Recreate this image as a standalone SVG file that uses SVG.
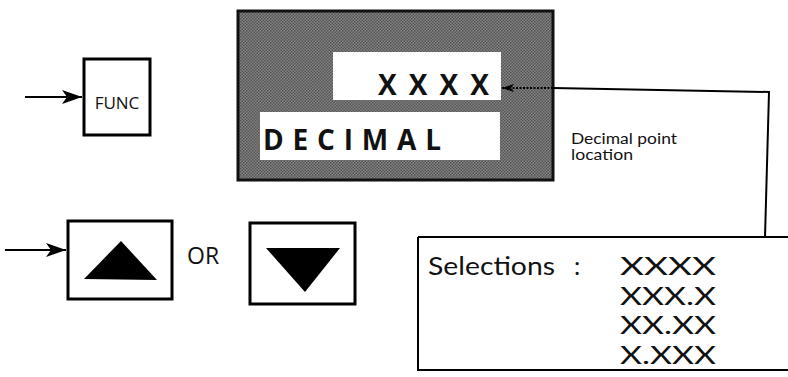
<svg xmlns="http://www.w3.org/2000/svg" width="788" height="377" viewBox="0 0 788 377">
<defs>
<pattern id="dither" width="3" height="3" patternUnits="userSpaceOnUse">
<rect width="3" height="3" fill="#838383"/>
<rect x="0" y="0" width="1.5" height="1.5" fill="#555"/>
<rect x="1.5" y="1.5" width="1.5" height="1.5" fill="#555"/>
</pattern>
<marker id="head" markerWidth="12" markerHeight="8" refX="12" refY="4" orient="auto" markerUnits="userSpaceOnUse">
<path d="M0,0 L12,4 L0,8 L3,4 Z" fill="#000"/>
</marker>
<marker id="bighead" markerWidth="20" markerHeight="14" refX="20" refY="7" orient="auto" markerUnits="userSpaceOnUse">
<path d="M0,0 L20,7 L0,14 L5,7 Z" fill="#000"/>
</marker>
</defs>
<style>
.box{fill:#fff;stroke:#000;stroke-width:3}
.line{fill:none;stroke:#000;stroke-width:2}
.t{font-family:"Open Sans","Liberation Sans",sans-serif;fill:#111}
.l{font-family:Lato,"Open Sans","Liberation Sans",sans-serif;fill:#111}
.bold{font-weight:bold}
.tri{fill:#000}
</style>
<rect width="788" height="377" fill="#fff"/>
<g id="func">
<rect class="box" x="84" y="59" width="66" height="76"/>
<text class="t" x="117" y="109" font-size="17" text-anchor="middle">FUNC</text>
</g>
<g id="display">
<rect x="238" y="11" width="315" height="169" fill="url(#dither)" stroke="#111" stroke-width="3"/>
<rect x="333" y="52" width="168" height="48" fill="#fff"/>
<text class="t bold" x="378" y="95" font-size="28" textLength="111" lengthAdjust="spacing">XXXX</text>
<rect x="260" y="112" width="240" height="48" fill="#fff"/>
<text class="t bold" x="263" y="150" font-size="28" textLength="178" lengthAdjust="spacing">DECIMAL</text>
</g>
<g id="label">
<text class="l" x="571" y="144" font-size="14.5" textLength="106" lengthAdjust="spacingAndGlyphs">Decimal point</text>
<text class="l" x="571" y="160" font-size="14.5" textLength="62" lengthAdjust="spacingAndGlyphs">location</text>
</g>
<g id="up">
<rect class="box" x="68" y="221" width="104" height="78"/>
<polygon class="tri" points="84,279 121,241 157,280"/>
</g>
<text class="t" x="187" y="264" font-size="23">OR</text>
<g id="down">
<rect class="box" x="250" y="223" width="105" height="81"/>
<polygon class="tri" points="266,248 340,248 305,292"/>
</g>
<g id="selections">
<polyline class="line" points="418,237 418,370 788,370"/>
<text class="l" x="428" y="275" font-size="25" textLength="127" lengthAdjust="spacingAndGlyphs">Selections</text>
<text class="l" x="574" y="275" font-size="25">:</text>
<text class="l" x="620" y="275" font-size="25" textLength="96" lengthAdjust="spacingAndGlyphs">XXXX</text>
<text class="l" x="620" y="304.5" font-size="25" textLength="96" lengthAdjust="spacingAndGlyphs">XXX.X</text>
<text class="l" x="620" y="334" font-size="25" textLength="96" lengthAdjust="spacingAndGlyphs">XX.XX</text>
<text class="l" x="620" y="363.5" font-size="25" textLength="96" lengthAdjust="spacingAndGlyphs">X.XXX</text>
</g>
<g id="connectors">
<line class="line" x1="25" y1="97" x2="82" y2="97" stroke-width="3" marker-end="url(#bighead)"/>
<line class="line" x1="5" y1="250" x2="66" y2="250" stroke-width="3" marker-end="url(#bighead)"/>
<polyline class="line" points="418,237 788,237"/>
<polyline class="line" points="765,237 769,92 553,88"/>
<line x1="553" y1="88" x2="502" y2="88" stroke="#000" stroke-width="2" stroke-dasharray="2,1.5" marker-end="url(#head)"/>
</g>
</svg>
